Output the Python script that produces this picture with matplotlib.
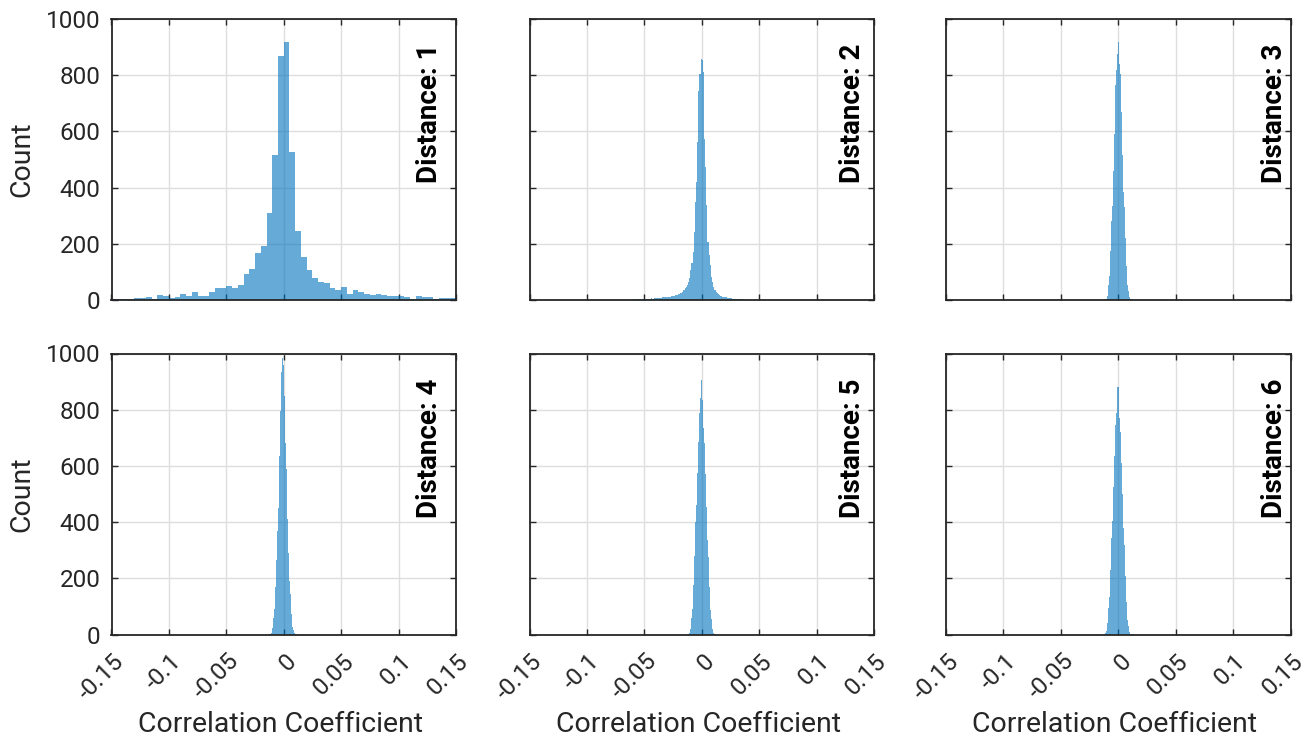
import numpy as np
import matplotlib
matplotlib.use("Agg")
import matplotlib.pyplot as plt
from matplotlib.transforms import ScaledTranslation

plt.rcParams['font.family'] = ['Roboto', 'DejaVu Sans']

# ---- axis settings ----
x_ticks = [-0.15, -0.1, -0.05, 0, 0.05, 0.1, 0.15]
x_tick_labels = ['-0.15', '-0.1', '-0.05', '0', '0.05', '0.1', '0.15']
y_ticks = [0, 200, 400, 600, 800, 1000]
y_tick_labels = ['0', '200', '400', '600', '800', '1000']
distances = [1, 2, 3, 4, 5, 6]

# ---- histogram counts per distance (first bin edge, bin width, counts) ----
d1_start, d1_width = -0.15, 0.005
d1_counts = [3, 5, 3, 2, 6, 6, 9, 4, 18, 13,
             6, 12, 21, 13, 28, 16, 14, 30, 43, 44,
             51, 44, 55, 91, 110, 168, 191, 308, 516, 869,
             918, 525, 247, 152, 107, 80, 63, 62, 42, 36,
             45, 23, 34, 30, 20, 17, 22, 19, 13, 13,
             16, 12, 5, 13, 9, 9, 4, 8, 8, 7]

d2_start, d2_width = -0.070, 0.001
d2_counts = [0, 1, 0, 1, 1, 0, 1, 1, 1, 2,
             1, 2, 1, 2, 2, 3, 2, 2, 3, 3,
             4, 3, 4, 5, 4, 5, 6, 5, 6, 7,
             6, 7, 8, 7, 8, 9, 10, 9, 11, 10,
             11, 12, 12, 13, 14, 15, 16, 17, 18, 20,
             22, 24, 26, 30, 35, 41, 47, 53, 65, 77,
             107, 130, 172, 243, 350, 420, 562, 745, 805, 858,
             855, 810, 574, 473, 337, 207, 160, 124, 83, 65,
             47, 35, 30, 24, 20, 18, 16, 14, 12, 11,
             10, 9, 8, 7, 6, 6, 5, 5, 4, 4,
             3, 3, 3, 2, 2, 2, 1, 1, 1, 1,
             1, 0, 1, 0, 0]

d3_start, d3_width = -0.015, 0.0005
d3_counts = [0, 1, 0, 1, 1, 1, 1, 2, 3, 5,
             9, 16, 30, 52, 85, 125, 175, 225, 280, 335,
             390, 460, 525, 590, 680, 765, 817, 847, 876, 905,
             918, 870, 840, 805, 755, 670, 585, 515, 450, 385,
             330, 272, 220, 170, 122, 84, 55, 33, 20, 12,
             8, 5, 4, 3, 2, 2, 1, 1, 1, 0,
             1, 0, 0, 1, 0, 0, 0, 1, 0, 0]

d4_start, d4_width = -0.015, 0.0005
d4_counts = [0, 0, 1, 0, 1, 1, 2, 4, 7, 13,
             22, 38, 60, 90, 125, 170, 215, 265, 315, 370,
             450, 545, 635, 715, 795, 880, 935, 985, 995, 960,
             905, 850, 760, 680, 590, 500, 410, 345, 290, 240,
             190, 145, 105, 72, 46, 28, 16, 9, 5, 3,
             2, 1, 1, 0, 1, 0, 0, 0, 0, 0]

d5_start, d5_width = -0.015, 0.0005
d5_counts = [0, 0, 1, 0, 1, 1, 2, 3, 6, 11,
             20, 35, 58, 90, 130, 175, 225, 280, 340, 400,
             460, 520, 575, 630, 685, 740, 790, 840, 875, 905,
             890, 835, 785, 735, 680, 625, 570, 515, 455, 395,
             335, 275, 220, 170, 125, 86, 55, 33, 19, 10,
             6, 3, 2, 1, 1, 0, 1, 0, 0, 0]

d6_start, d6_width = -0.015, 0.0005
d6_counts = [0, 1, 0, 1, 1, 2, 3, 5, 8, 14,
             24, 40, 64, 95, 135, 180, 230, 285, 345, 405,
             465, 525, 580, 635, 690, 745, 790, 830, 880, 903,
             880, 820, 770, 720, 665, 610, 555, 500, 440, 380,
             320, 262, 208, 160, 116, 80, 52, 31, 18, 10,
             5, 3, 2, 1, 1, 0, 1, 0, 0, 0]

hist_data = [
    (d1_start, d1_width, d1_counts),
    (d2_start, d2_width, d2_counts),
    (d3_start, d3_width, d3_counts),
    (d4_start, d4_width, d4_counts),
    (d5_start, d5_width, d5_counts),
    (d6_start, d6_width, d6_counts),
]

# ---- styling ----
face_color = '#0072BD'
axis_color = '#262626'
grid_color = '#DEDEDE'

fig = plt.figure(figsize=(13.14, 7.42), dpi=100)
W, H = 1314.0, 742.0

col_left = [111.5, 529.5, 946.0]
row_top = [19.0, 353.5]
ax_w, ax_h = 344.5, 281.0
label_x = [0.945, 0.959, 0.975]

tick_shift = ScaledTranslation(9 / 100.0, 0, fig.dpi_scale_trans)

for idx, (start, width, counts) in enumerate(hist_data):
    r, c = divmod(idx, 3)
    left = col_left[c] / W
    bottom = 1 - (row_top[r] + ax_h) / H
    ax = fig.add_axes([left, bottom, ax_w / W, ax_h / H])

    counts = np.asarray(counts, dtype=float)
    edges = start + width * np.arange(len(counts) + 1)
    ax.hist(edges[:-1], bins=edges, weights=counts, histtype='stepfilled',
            color=face_color, alpha=0.6, linewidth=0)

    ax.set_xlim(-0.15, 0.15)
    ax.set_ylim(0, 1000)
    ax.set_xticks(x_ticks)
    ax.set_yticks(y_ticks)
    ax.set_axisbelow(True)
    ax.grid(True, color=grid_color, linewidth=1.0)

    for sp in ax.spines.values():
        sp.set_color(axis_color)
        sp.set_linewidth(1.3)
    ax.tick_params(direction='in', length=4, width=1.0, color=axis_color,
                   top=True, right=True, labelsize=17.5, labelcolor=axis_color)
    ax.tick_params(axis='x', pad=16.6)
    ax.tick_params(axis='y', pad=8.0)

    if c == 0:
        ax.set_yticklabels(y_tick_labels)
        ax.set_ylabel('Count', fontsize=20.5, color=axis_color)
        ax.yaxis.set_label_coords(-0.22, 0.5)
    else:
        ax.set_yticklabels([])

    if r == 1:
        ax.set_xticklabels(x_tick_labels)
        for lab in ax.get_xticklabels():
            lab.set_rotation(45)
            lab.set_rotation_mode('anchor')
            lab.set_ha('right')
            lab.set_va('center')
            lab.set_transform(lab.get_transform() + tick_shift)
        ax.set_xlabel('Correlation Coefficient', fontsize=20.5, color=axis_color)
        ax.xaxis.set_label_coords(0.49, -0.272)
    else:
        ax.set_xticklabels([])

    ax.text(label_x[c], 0.415, f'Distance: {distances[idx]}',
            transform=ax.transAxes, rotation=90, rotation_mode='anchor',
            ha='left', va='baseline', fontsize=20, fontweight='bold',
            color='black')

fig.savefig('out.png', dpi=100)
